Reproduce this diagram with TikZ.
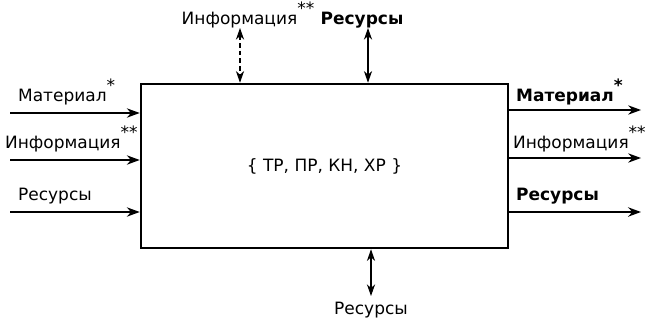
\documentclass[tikz,border=0pt]{standalone}
\usepackage{fontspec}
\setmainfont{DejaVu Sans}
\usetikzlibrary{arrows.meta}
\newcommand{\onestar}{\raisebox{1.05ex}{*}}
\newcommand{\twostar}{\raisebox{1.05ex}{**}}
\begin{document}
\begin{tikzpicture}[x=.03cm,y=.03cm,font=\fontsize{14.5}{16}\selectfont,
		flow/.style={-{Stealth[length=11pt,width=8pt]},line width=1pt},
		duplex/.style={{Stealth[length=10pt,width=7pt]}-{Stealth[length=10pt,width=7pt]},line width=.9pt}]
		\useasboundingbox (0,0) rectangle (647,322);
		\node[draw,line width=2.2pt,minimum width=11.01cm,minimum height=4.92cm,inner sep=0pt] (sys) at (324.5,156) {\{ ТР, ПР, КН, ХР \}};
		\coordinate (mi) at (10,209);
		\coordinate (ii) at (10,162);
		\coordinate (ri) at (10,110);
		\draw[flow] (mi) -- (mi -| sys.west);
		\draw[flow] (ii) -- (ii -| sys.west);
		\draw[flow] (ri) -- (ri -| sys.west);
		\node[anchor=base west] (lmi) at (14,221) {Материал\onestar};
		\node[anchor=base west] (lii) at (1,174) {Информация\twostar};
		\node[anchor=base west] (lri) at (14,122) {Ресурсы};
		\coordinate (mo) at (641,212);
		\coordinate (io) at (641,164);
		\coordinate (ro) at (641,110);
		\draw[flow] (sys.east |- mo) -- (mo);
		\draw[flow] (sys.east |- io) -- (io);
		\draw[flow,line width=1.5pt] (sys.east |- ro) -- (ro);
		\node[anchor=base west,font=\fontsize{14.5}{16}\selectfont\bfseries] (lmo) at (512,221) {Материал\onestar};
		\node[anchor=base west] (lio) at (509,174) {Информация\twostar};
		\node[anchor=base west,font=\fontsize{14.5}{16}\selectfont\bfseries] (lro) at (512,122) {Ресурсы};
		\coordinate (ti) at (240,294);
		\coordinate (tr) at (368,294);
		\draw[duplex,dash pattern=on 4pt off 2.5pt] (ti) -- (ti |- sys.north);
		\draw[duplex] (tr) -- (tr |- sys.north);
		\node[anchor=base] (lti) at (248,298) {Информация\twostar};
		\node[anchor=base,font=\fontsize{14.5}{16}\selectfont\bfseries] (ltr) at (362,298) {Ресурсы};
		\coordinate (br) at (371,26);
		\draw[duplex] (br |- sys.south) -- (br);
		\node[anchor=base] (lbr) at (371,8) {Ресурсы};
	\end{tikzpicture}
\end{document}
